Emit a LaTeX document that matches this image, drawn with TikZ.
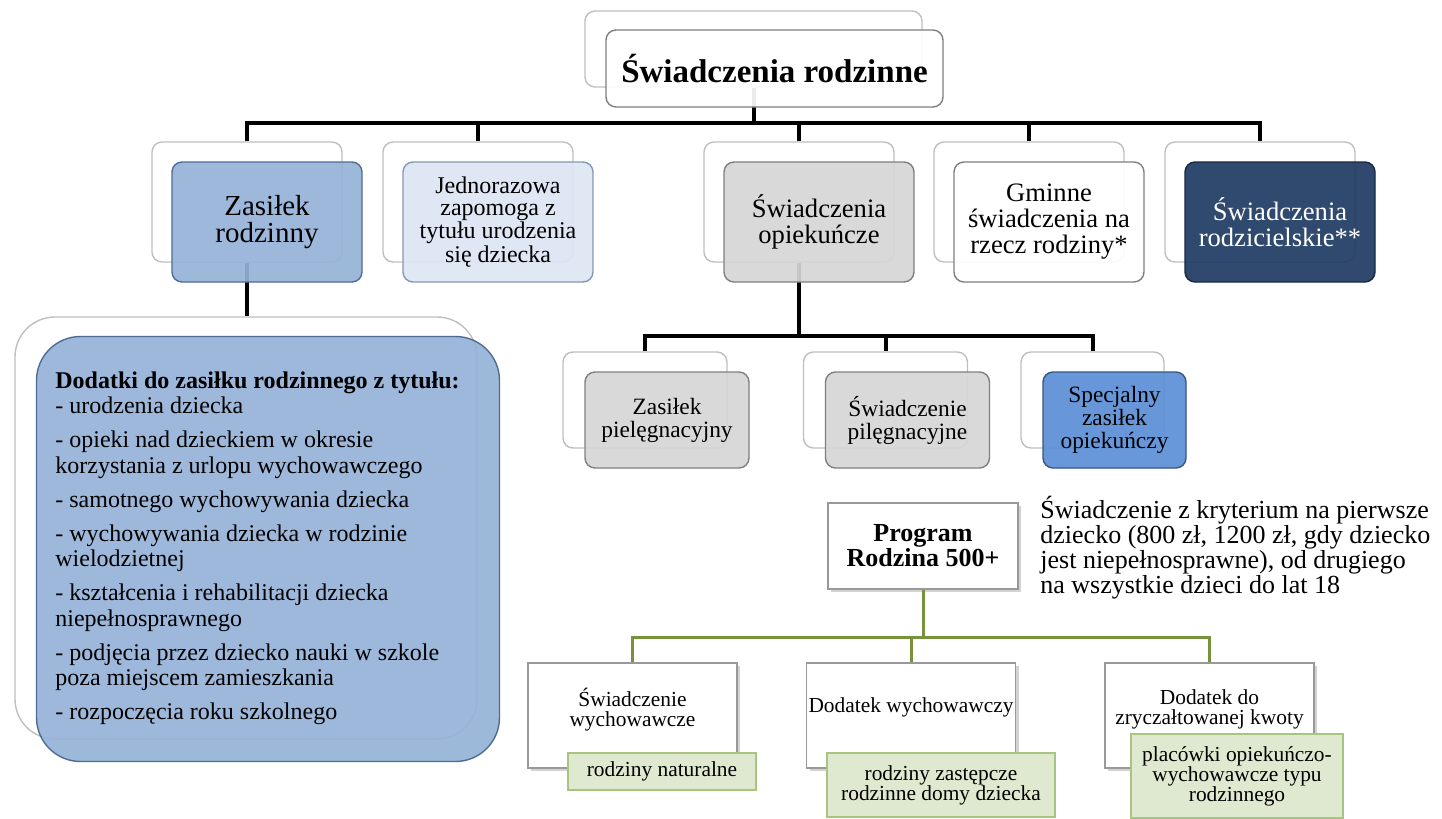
\documentclass[tikz,border=0pt]{standalone}
\usepackage{fontspec}
\setmainfont{Liberation Serif}
\usepackage{tikz}
\usetikzlibrary{calc,positioning,shadows}

\definecolor{ramka}{HTML}{BFBFBF}
\definecolor{zasNieb}{HTML}{95B3D7}
\definecolor{zasBrzeg}{HTML}{4F6C94}
\definecolor{jedNieb}{HTML}{DCE6F2}
\definecolor{szary}{HTML}{D6D6D6}
\definecolor{szaryBrzeg}{HTML}{7F7F7F}
\definecolor{granat}{HTML}{1F3A62}
\definecolor{specNieb}{HTML}{5B8FD6}
\definecolor{zielTlo}{HTML}{DFE9CF}
\definecolor{zielBrzeg}{HTML}{A8C47E}
\definecolor{zielLinia}{HTML}{76923C}

\begin{document}
\begin{tikzpicture}[x=0.5pt,y=-0.5pt,
    tlo/.style={draw=ramka, fill=white, rounded corners=5pt, line width=0.7pt},
    przod/.style={draw=szaryBrzeg, rounded corners=5pt, line width=0.7pt,
        fill opacity=0.92, text opacity=1, align=center, inner sep=2pt},
    gora/.style={minimum width=95pt, minimum height=60pt},
    srodek/.style={minimum width=82pt, minimum height=48pt},
    linia/.style={black, line width=2pt},
    zielona/.style={zielLinia, line width=1.5pt},
    biala/.style={draw=szaryBrzeg!80, fill=white, line width=0.6pt,
        minimum width=104.5pt, minimum height=52.5pt,
        drop shadow={shadow xshift=1.5pt, shadow yshift=-1.5pt, opacity=0.35}},
    zielbox/.style={draw=zielBrzeg, fill=zielTlo, line width=0.7pt, align=center,
        inner sep=1pt, font=\fontsize{10.7}{10}\selectfont},
    tekstG/.style={font=\fontsize{13.3}{13}\selectfont},
    tekstS/.style={font=\fontsize{11.7}{11.5}\selectfont},
    tekstD/.style={align=center, font=\fontsize{10.7}{10.3}\selectfont}]
    \useasboundingbox (0,0) rectangle (1442,819);

    % back boxes
    \node[tlo, minimum width=168.5pt, minimum height=38pt] (tytB) at (753.5,49) {};
    \foreach \n/\x in {zas/247,jed/478,opi/799,gmi/1029,rodz/1260}
        \node[tlo, gora] (\n B) at (\x,202) {};
    \node[tlo, rounded corners=20pt, minimum width=231pt, minimum height=211pt] (dodB) at (246,528) {};
    \node[tlo, srodek] (zpB) at (645,400) {};
    \node[tlo, srodek] (spB) at (885.5,400) {};
    \node[tlo, srodek, minimum width=71.5pt] (specB) at (1092.5,400) {};

    % connectors
    \coordinate (szynaT) at (753.5,123);
    \draw[linia] (tytB.south) -- (szynaT);
    \foreach \n in {zas,jed,opi,gmi,rodz}
        \draw[linia] (szynaT) -| (\n B.north);
    \draw[linia] (zasB.south) -- (dodB.north -| zasB.south);
    \coordinate (szynaO) at (799,336);
    \draw[linia] (opiB.south) -- (szynaO);
    \foreach \n in {zp,sp,spec}
        \draw[linia] (szynaO) -| (\n B.north);

    % front boxes
    \node[przod, fill=white, minimum width=168.5pt, minimum height=38.5pt,
        font=\bfseries\fontsize{16.5}{18}\selectfont] (tytF) at (774.5,68.5) {Świadczenia rodzinne};
    \node[przod, gora, fill=zasNieb, draw=zasBrzeg, font=\fontsize{14.5}{13.2}\selectfont]
        (zasF) at (267,222) {Zasiłek\\rodzinny};
    \node[przod, gora, fill=jedNieb, draw=zasBrzeg!70, font=\fontsize{12}{10.9}\selectfont]
        (jedF) at (498,222) {Jednorazowa\\zapomoga z\\tytułu urodzenia\\się dziecka};
    \node[przod, gora, tekstG, fill=szary] (opiF) at (819,222) {Świadczenia\\opiekuńcze};
    \node[przod, gora, tekstG, fill=white] (gmiF) at (1049,222) {Gminne\\świadczenia na\\rzecz rodziny*};
    \node[przod, gora, tekstG, fill=granat, draw=granat!70!black, text=white]
        (rodzF) at (1280,222) {Świadczenia\\rodzicielskie**};

    \node[przod, fill=zasNieb, draw=zasBrzeg, rounded corners=22pt,
        minimum width=231.5pt, minimum height=212.5pt] (dodF) at (268,549) {};
    \node[anchor=north west, inner sep=0pt, align=left, font=\fontsize{12}{12.75}\selectfont] (dodT) at (55,371)
        {\textbf{Dodatki do zasiłku rodzinnego z tytułu:}\\
        - urodzenia dziecka\\[4.25pt]
        - opieki nad dzieckiem w okresie\\
        korzystania z urlopu wychowawczego\\[4.25pt]
        - samotnego wychowywania dziecka\\[4.25pt]
        - wychowywania dziecka w rodzinie\\
        wielodzietnej\\[4.25pt]
        - kształcenia i rehabilitacji dziecka\\
        niepełnosprawnego\\[4.25pt]
        - podjęcia przez dziecko nauki w szkole\\
        poza miejscem zamieszkania\\[4.25pt]
        - rozpoczęcia roku szkolnego};

    \node[przod, srodek, tekstS, fill=szary] (zpF) at (667,420) {Zasiłek\\pielęgnacyjny};
    \node[przod, srodek, tekstS, fill=szary] (spF) at (907.5,420) {Świadczenie\\pilęgnacyjne};
    \node[przod, srodek, tekstS, minimum width=71.5pt, fill=specNieb, draw=specNieb!60!black]
        (specF) at (1114.5,420) {Specjalny\\zasiłek\\opiekuńczy};

    % Program Rodzina 500+
    \node[draw=szaryBrzeg!80, fill=white, line width=0.6pt, minimum width=95pt, minimum height=43pt,
        align=center, font=\bfseries\fontsize{13}{12.5}\selectfont,
        drop shadow={shadow xshift=1.5pt, shadow yshift=-1.5pt, opacity=0.35}]
        (prog) at (923,546) {Program\\Rodzina 500+};
    \node[anchor=north west, inner sep=0pt, align=left, font=\fontsize{13}{12.5}\selectfont] (opis) at (1040,496)
        {Świadczenie z kryterium na pierwsze\\
        dziecko (800 zł, 1200 zł, gdy dziecko\\
        jest niepełnosprawne), od drugiego\\
        na wszystkie dzieci do lat 18};

    \node[biala, label={[tekstD, yshift=3pt]center:Świadczenie\\wychowawcze}] (sw) at (632.5,715.5) {};
    \node[biala, label={[tekstD, yshift=4pt]center:Dodatek wychowawczy}] (dw) at (911,715.5) {};
    \node[biala, label={[tekstD, yshift=3pt]center:Dodatek do\\zryczałtowanej kwoty}] (dz) at (1209.5,715.5) {};

    \coordinate (szynaP) at (923,637);
    \draw[zielona] (prog.south) -- (szynaP);
    \foreach \n in {sw,dw,dz}
        \draw[zielona] (szynaP) -| (\n.north);

    \node[zielbox, minimum width=94pt, minimum height=18.5pt] (rn) at (662,771.5) {rodziny naturalne};
    \node[zielbox, minimum width=114pt, minimum height=32pt] (rz) at (941,785) {rodziny zastępcze\\rodzinne domy dziecka};
    \node[zielbox, minimum width=106pt, minimum height=42pt] (pl) at (1237,776) {placówki opiekuńczo-\\wychowawcze typu\\rodzinnego};
\end{tikzpicture}
\end{document}
